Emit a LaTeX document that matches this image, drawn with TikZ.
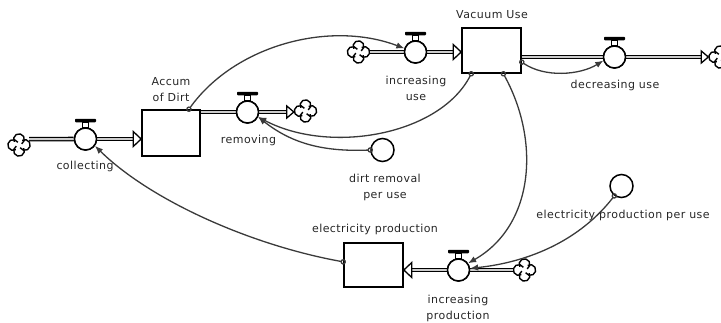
\documentclass[tikz,border=0pt]{standalone}
\usepackage{fontspec}
\setmainfont{DejaVu Sans}[LetterSpace=4]
\usetikzlibrary{arrows.meta,calc}
\definecolor{connc}{HTML}{3A3A3A}
\definecolor{txtc}{HTML}{262626}
\tikzset{
  stock/.style={draw=black, line width=1.6pt, fill=white, rectangle, inner sep=0},
  valve/.style={draw=black, line width=1.5pt, fill=white, circle, minimum size=22pt, inner sep=0},
  aux/.style={draw=black, line width=1.5pt, fill=white, circle, minimum size=23pt, inner sep=0},
  cloudnode/.style={circle, minimum size=23pt, inner sep=0},
  pipe/.style={draw=black, line width=1.3pt, double=white!80!black, double distance=2pt},
  pipetip/.style={draw=black, line width=1.3pt, fill=white, line join=miter},
  connector/.style={draw=connc, line width=1.3pt,
    {Circle[open,length=5.5pt,width=5.5pt]}-{Latex[length=8pt,width=6.5pt]}, shorten <=-2.75pt},
  lbl/.style={text=txtc, font=\fontsize{11}{16}\selectfont, align=center, inner sep=0},
}
\newcommand{\valvehandle}[1]{%
  \fill[black, rounded corners=0.8pt] ($(#1.north)+(-10.5,-5)$) rectangle ($(#1.north)+(10.5,-8.5)$);
  \draw[black, line width=1pt] ($(#1.north)+(-3,0)$) rectangle ($(#1.north)+(3,-5)$);
}
\newcommand{\cloudshape}[1]{%
  \foreach \a in {0,90,180,270}{
    \draw[black, line width=1.4pt, shift={(#1.center)}, rotate=\a]
      (5.8,0) ++(150:5.4) arc[start angle=150, end angle=-120, radius=5.4];
  }
}
\newcommand{\stocktip}[2]{% tip point, direction sign (+1 right, -1 left)
  \draw[pipetip] #1 -- ++(-8*#2,-7.5) -- ++(0,15) -- cycle;
}
\newcommand{\cloudtip}[2]{%
  \draw[pipetip] #1 -- ++(-7*#2,-6) -- ++(0,12) -- cycle;
}
\begin{document}
\begin{tikzpicture}[x=1pt,y=-1pt]
\useasboundingbox (0,0) rectangle (721,322);

% stocks
\node[stock, minimum width=58pt, minimum height=46pt] (accum) at (171,133) {};
\node[stock, minimum width=59pt, minimum height=45pt] (vu) at (491.5,50.5) {};
\node[stock, minimum width=59pt, minimum height=44pt] (ep) at (373.5,265) {};

% clouds
\node[cloudnode] (cc) at (19,145) {};
\node[cloudnode] (cr) at (305.5,111) {};
\node[cloudnode] (ciu) at (358.5,52) {};
\node[cloudnode] (cd) at (720,57) {};
\node[cloudnode] (cp) at (524.5,270) {};
\foreach \c in {cc,cr,ciu,cd,cp}{\cloudshape{\c}}

% valves
\node[valve] (vc) at (85.5,139) {};
\node[valve] (vr) at (247.5,112) {};
\node[valve] (viu) at (415.5,52) {};
\node[valve] (vd) at (614.5,57) {};
\node[valve] (vp) at (458.5,270) {};

% auxiliaries
\node[aux] (dr) at (382.5,150) {};
\node[aux] (epu) at (621.5,186) {};

% pipes
\draw[pipe] (cc.30) -- (vc);
\draw[pipe] (vc) -- ($(accum.west |- vc)+(-8,0)$);
\stocktip{(accum.west |- vc)}{1}

\draw[pipe] (accum.east |- vr) -- (vr);
\draw[pipe] (vr) -- ($(cr.west |- vr)+(-7,0)$);
\cloudtip{(cr.west |- vr)}{1}

\draw[pipe] (ciu) -- (viu);
\draw[pipe] (viu) -- ($(vu.west |- viu)+(-8,0)$);
\stocktip{(vu.west |- viu)}{1}

\draw[pipe] (vu.east |- vd) -- (vd);
\draw[pipe] (vd) -- ($(cd.west |- vd)+(-7,0)$);
\cloudtip{(cd.west |- vd)}{1}

\draw[pipe] (cp) -- (vp);
\draw[pipe] (vp) -- ($(ep.east |- vp)+(8,0)$);
\stocktip{(ep.east |- vp)}{-1}

% redraw valves on top of pipes
\foreach \v in {vc,vr,viu,vd,vp}{
  \draw[black, line width=1.5pt, fill=white] (\v.center) circle[radius=11pt];
  \valvehandle{\v}
}

% labels
\node[lbl] (lacc) at (171,89.5) {Accum\\of Dirt};
\node[lbl] (lvu) at (492,15) {Vacuum Use};
\node[lbl] (lep) at (375,229) {electricity production};
\node[lbl] (lvc) at (85,166) {collecting};
\node[lbl] (lvr) at (248.5,140) {removing};
\node[lbl] (lviu) at (416,88) {increasing\\use};
\node[lbl] (lvd) at (615,85) {decreasing use};
\node[lbl] (lvp) at (458,308) {increasing\\production};
\node[lbl] (ldr) at (385,187) {dirt removal\\per use};
\node[lbl] (lepu) at (623,215) {electricity production per use};

% connectors
\draw[connector] (accum.53.5) .. controls (235,45) and (330,20) .. (viu.162);
\draw[connector] (vu.229) .. controls (440,135) and (330,155) .. (vr.335);
\draw[connector] (dr.180) .. controls (320,152) and (290,142) .. (vr.335);
\draw[connector] (vu.339) .. controls (545,78) and (580,75) .. (vd.198);
\draw[connector] (vu.297) .. controls (540,140) and (535,225) .. (vp.35);
\draw[connector] (epu.234) .. controls (580,240) and (530,262) .. (vp.8);
\draw[connector] (ep.174) .. controls (250,245) and (150,200) .. (vc.324);
\end{tikzpicture}
\end{document}
